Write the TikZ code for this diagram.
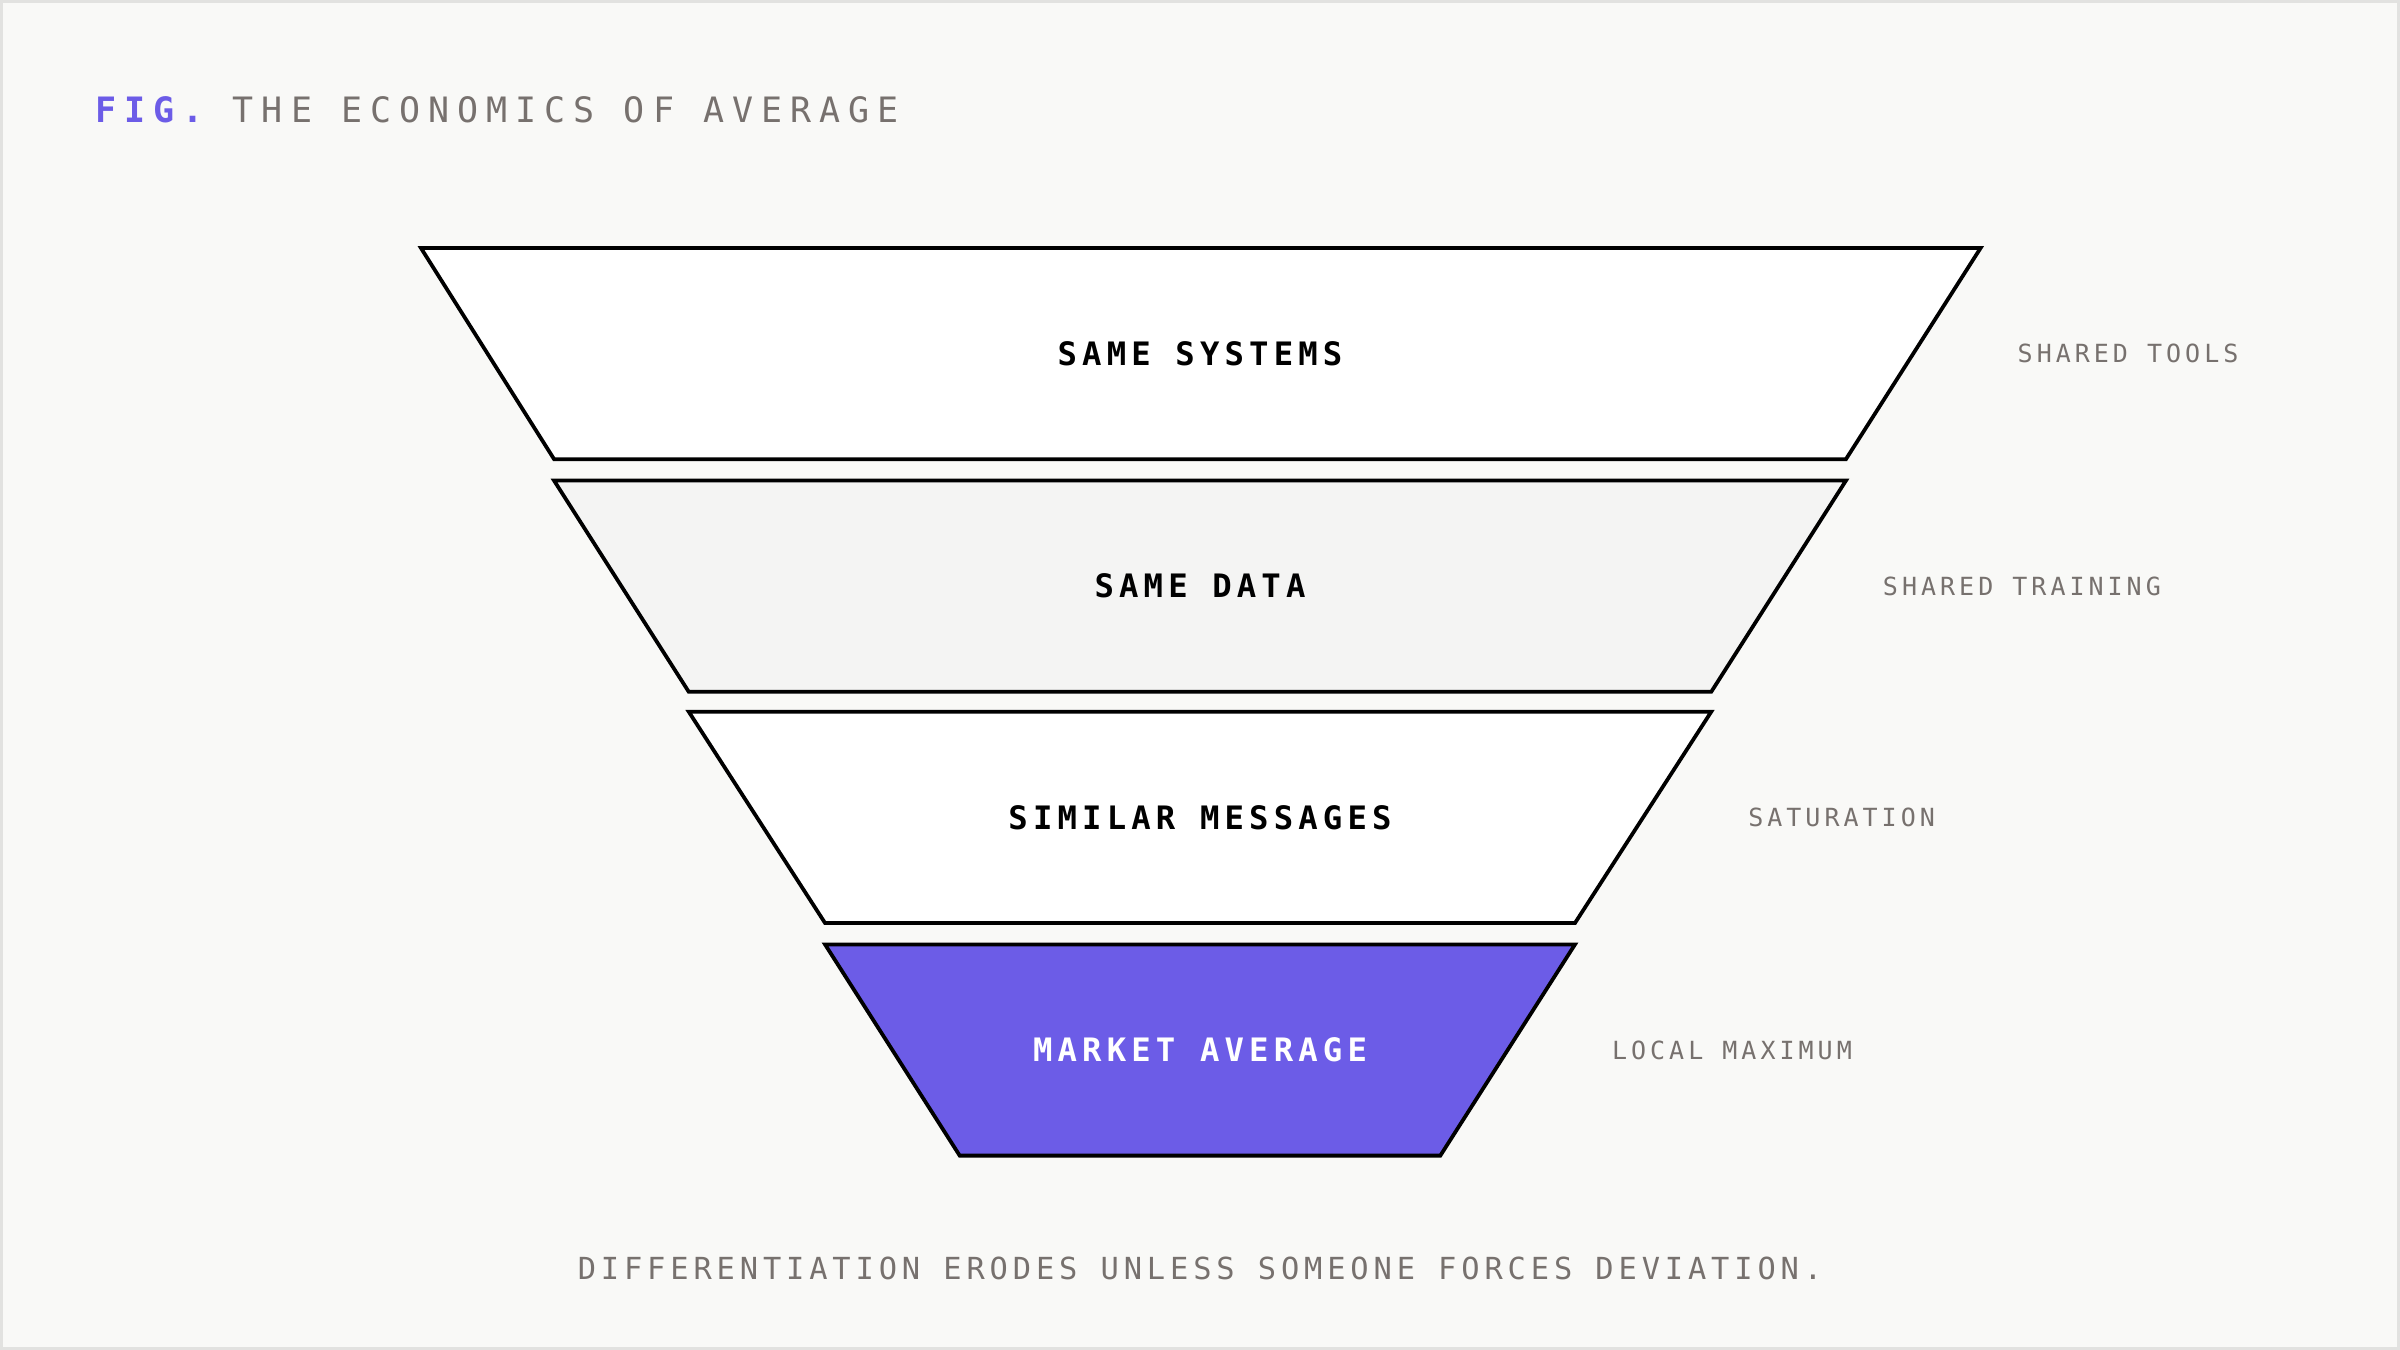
\documentclass[tikz,border=0pt]{standalone}
\usepackage{fontspec}
\newfontfamily\monofont[LetterSpace=16]{DejaVu Sans Mono}
\newfontfamily\titlefont[LetterSpace=23]{DejaVu Sans Mono}
\definecolor{paper}{HTML}{F9F9F7}
\definecolor{frame}{HTML}{E2E2E0}
\definecolor{violet}{HTML}{6C5CE7}
\definecolor{greytext}{HTML}{77716E}
\definecolor{softfill}{HTML}{F4F4F3}
\tikzset{
  layer/.style={draw=black, line width=1.4pt, line join=miter},
  stage/.style={font=\monofont\fontsize{12}{14}\selectfont\bfseries},
  side/.style={anchor=west, text=greytext, font=\monofont\fontsize{9.3}{12}\selectfont},
}
\begin{document}
\begin{tikzpicture}[x=0.02cm,y=-0.02cm]
	\fill[paper, draw=frame, line width=1pt] (1,1) rectangle (1567,881);
	\useasboundingbox (0,0) rectangle (1568,882);
	% title
	\node[anchor=west, font=\titlefont\fontsize{13}{15}\selectfont, inner sep=0] (title) at (62,72)
	  {\textcolor{violet}{\bfseries FIG.} \textcolor{greytext}{THE ECONOMICS OF AVERAGE}};
	% funnel layers
	\draw[layer, fill=white]    (275,162) -- (1294,162) -- (1206,300) -- (362,300) -- cycle;
	\draw[layer, fill=softfill] (362,314) -- (1206,314) -- (1118,452) -- (450,452) -- cycle;
	\draw[layer, fill=white]    (450,465) -- (1118,465) -- (1029,603) -- (539,603) -- cycle;
	\draw[layer, fill=violet]   (539,617) -- (1029,617) -- (941,755) -- (627,755) -- cycle;
	\node[stage] (systems)  at (784,231) {SAME SYSTEMS};
	\node[stage] (data)     at (784,383) {SAME DATA};
	\node[stage] (messages) at (784,534) {SIMILAR MESSAGES};
	\node[stage, text=white] (average) at (784,686) {MARKET AVERAGE};
	% side notes
	\node[side] (tools)      at (1312,231) {SHARED TOOLS};
	\node[side] (training)   at (1224,383) {SHARED TRAINING};
	\node[side] (saturation) at (1136,534) {SATURATION};
	\node[side] (maximum)    at (1047,686) {LOCAL MAXIMUM};
	% caption
	\node[text=greytext, font=\monofont\fontsize{11.3}{13}\selectfont] (caption) at (784,829)
	  {DIFFERENTIATION ERODES UNLESS SOMEONE FORCES DEVIATION.};
\end{tikzpicture}
\end{document}
